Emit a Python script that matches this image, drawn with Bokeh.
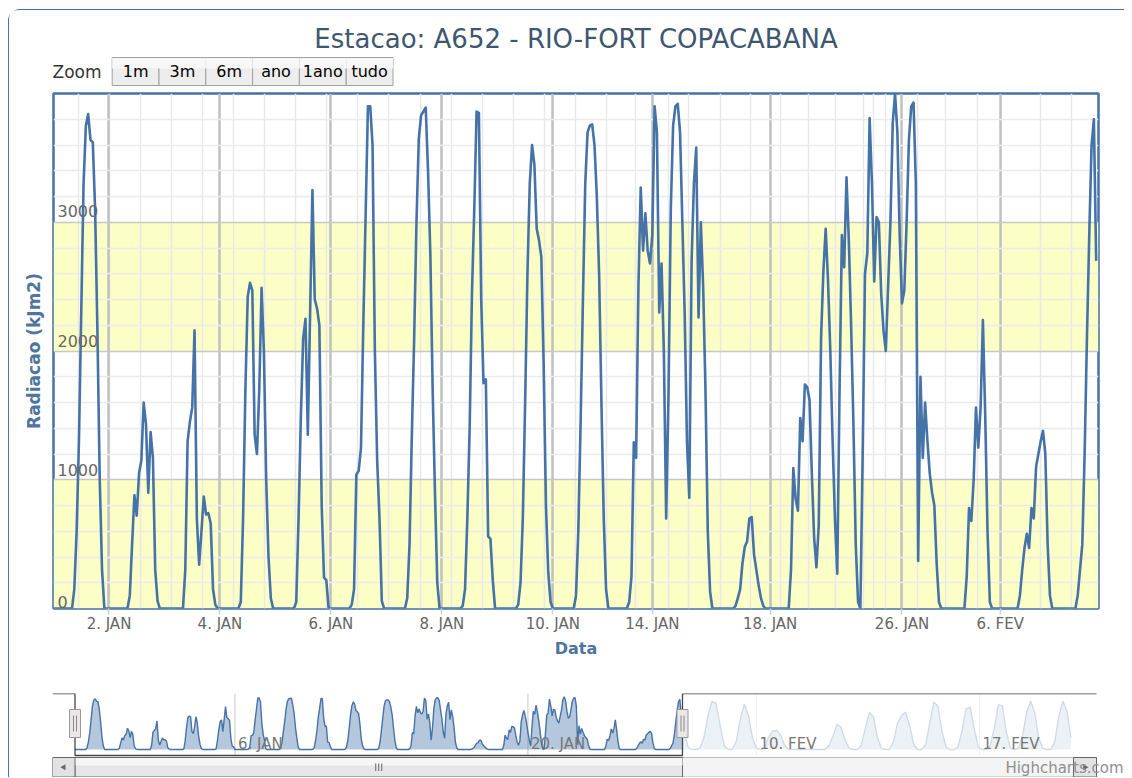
import numpy as np
from bokeh.plotting import figure
from bokeh.models import Range1d, FixedTicker, BoxAnnotation, Title
from bokeh.layouts import column
from bokeh.embed import file_html
from bokeh.resources import INLINE
from bokeh.core.properties import value

# ---------------- data (hourly radiation, kJ/m2) ----------------
dia_01 = [0,0,0,0,0,0,0,0,0,150,600,1300,2300,3300,3750,3840,3640,3620,3100,2150,1000,300,0,0]
dia_02 = [0,0,0,0,0,0,0,0,0,100,500,880,720,1050,1150,1600,1430,900,1370,1170,300,60,0,0]
dia_03 = [0,0,0,0,0,0,0,0,0,300,1300,1450,1560,2160,700,340,600,870,730,740,660,150,30,0]
dia_04 = [0,0,0,0,0,0,0,0,0,50,700,1700,2420,2530,2470,1350,1200,1700,2490,2000,1000,400,80,0]
dia_05 = [0,0,0,0,0,0,0,0,0,50,700,1500,2100,2250,1350,2300,3250,2400,2330,2200,800,240,220,0]
dia_06 = [0,0,0,0,0,0,0,0,0,30,150,1040,1070,1250,2200,3050,3900,3900,3600,2000,1150,700,60,0]
dia_07 = [0,0,0,0,0,0,0,0,0,80,500,1350,2100,3000,3650,3830,3860,3890,3400,2750,1700,900,200,0]
dia_08 = [0,0,0,0,0,0,0,0,0,20,150,700,1400,2450,3100,3860,3850,2400,1750,1780,560,540,220,0]
dia_09 = [0,0,0,0,0,0,0,0,0,30,200,700,1600,2600,3300,3600,3450,2950,2860,2730,1900,800,280,50]
dia_10 = [0,0,0,0,0,0,0,0,0,0,100,600,1450,2400,3300,3700,3750,3760,3600,3200,2600,1600,700,150]
trecho_a = [0,0,0,0,0,0,0,0,0,50,250,1290,1170,2500,3270,2780,3070,2780,2680,2900,3900,3700,
            2300,2680,2000,700,1650,3100,3750,3900,3920,3700,3000,2300,1300,860,2700,3300,3580,
            2260,3000,2500,1700,600,130,0]
trecho_b = [0,0,0,0,0,0,0,0,0,20,80,150,350,480,520,700,710,420,300,180,80,20,0]
trecho_c = [0,0,0,0,0,0,0,0,0,0,300,1090,850,760,1480,1300,1740,1720,1620,1050,550,320,650,
            2100,2620,2950,2550,2000,1300,700,270,1700,2900,2650,3350,2860,2200,1430,500,50,0]
trecho_d = [1200,2600,2760,3810,3300,2540,3040,3000,2450,2160,2000,2500,3000,3770,4000,3700,
            2900,2370,2470,3000,3640,3900,3930,3300,370,1800,1170,1600,1300,1050,900,800,350,50,0]
trecho_e = [0,0,0,0,0,0,0,0,0,0,250,780,680,1000,1560,1250,1560,2240,1500,600,50,0]
trecho_f = [0,0,0,0,0,0,0,0,0,0,0,100,300,470,580,470,780,700,1100,1200,1300,1380,1200,500,100,0]
trecho_g = [0,0,0,0,0,0,0,0,0,0,100,300,500,1200,2100,2900,3600,3800,2700]

radiacao = (dia_01 + dia_02 + dia_03 + dia_04 + dia_05 + dia_06 + dia_07 + dia_08 + dia_09 +
            dia_10 + trecho_a + trecho_b + trecho_c + trecho_d + trecho_e + trecho_f + trecho_g)

# later data only visible in the navigator (3-hourly samples)
nav_tail = [1500,200,0,0,100,900,2600,3650,3500,1800,300,0,0,600,2300,3450,2600,900,100,0,
            100,900,1400,1440,1100,300,0,0,0,0,0,0,0,0,0,0,300,1000,1900,1700,700,100,0,0,
            300,1600,2800,2500,900,100,0,0,600,2000,2570,2830,1800,400,0,0,400,2000,3600,3300,
            1400,200,0,0,200,1400,3100,3200,1600,200,0,0,300,1600,3400,3300,1300,100,0,100,
            1000,2800,3650,2800,900,100,0,0,600,2500,3650,2900,900]

tick_labels = ["2. JAN", "4. JAN", "6. JAN", "8. JAN", "10. JAN", "14. JAN", "18. JAN", "26. JAN", "6. FEV"]
tick_index = [24, 72, 120, 168, 216, 259, 310, 367, 409.5]
y_ticks = [0, 1000, 2000, 3000]
nav_labels = ["6. JAN", "20. JAN", "10. FEV", "17. FEV"]
nav_index = [119, 337, 507, 673]
buttons = ["1m", "3m", "6m", "ano", "1ano", "tudo"]

FONT = "DejaVu Sans"
BLUE = "#4572A7"
W = 1115
n = len(radiacao)
x = np.arange(n)


def no_align(fig):
    if "frame_align" in fig.properties():
        fig.frame_align = False


# ---------------- header: title + range selector (page-pixel coordinates) ----------------
HX0, HY0, HH = 9, 10, 80
ph = figure(width=W, height=HH, x_range=Range1d(HX0, HX0 + W), y_range=Range1d(HY0 + HH, HY0),
            output_backend="svg", toolbar_location=None, tools="", x_axis_location=None,
            y_axis_location=None, min_border=0, title=None)
no_align(ph)
ph.grid.visible = False
ph.outline_line_color = None
ph.background_fill_color = "white"
ph.border_fill_color = "white"
ph.text(x=[575.5], y=[38], text=["Estacao: A652 - RIO-FORT COPACABANA"], text_align="center",
        text_baseline="middle", text_font=value(FONT), text_font_size="26px",
        text_color="#3E576F")
ph.text(x=[52], y=[71], text=["Zoom"], text_align="left", text_baseline="middle",
        text_font=value(FONT), text_font_size="17px", text_color="#333333")
b_left = [111.7 + 46.8 * i for i in range(len(buttons))]
b_right = [b + 46.8 for b in b_left]
ph.quad(left=b_left, right=b_right, top=[57] * len(buttons), bottom=[85] * len(buttons),
        fill_color="#EDEDED", line_color="#A0A0A0", line_width=1)
ph.quad(left=b_left, right=b_right, top=[57.5] * len(buttons), bottom=[68] * len(buttons),
        fill_color="#F7F7F7", line_color=None)
ph.text(x=[(a + b) / 2 for a, b in zip(b_left, b_right)], y=[71] * len(buttons), text=buttons,
        text_align="center", text_baseline="middle", text_font=value(FONT),
        text_font_size="16px", text_color="#000000")

# ---------------- main chart ----------------
p = figure(width=W, height=590, x_range=Range1d(0, n), y_range=Range1d(0, 4000), title=None,
           output_backend="svg", toolbar_location=None, tools="", y_axis_location=None,
           min_border_left=44, min_border_right=26, min_border_top=3, min_border_bottom=72)
no_align(p)
p.background_fill_color = "white"
p.border_fill_color = "white"
p.outline_line_color = BLUE
p.outline_line_width = 2.5

for lo, hi in [(0, 1000), (2000, 3000)]:
    p.add_layout(BoxAnnotation(bottom=lo, top=hi, fill_color="#FCFFC5", fill_alpha=1.0,
                               line_color=None, level="image"))

minor_x = list(np.arange(10.8, 241, 13.43)) + [251.7, 265.9, 274.6, 288.4, 301.4, 314.4, 326.5,
                                               338.2, 350.3, 354.6, 359.8, 373.6, 385.7, 399.6,
                                               426.8, 440.2]
p.xaxis.ticker = FixedTicker(ticks=tick_index, minor_ticks=minor_x)
p.xaxis.major_label_overrides = {t: l for t, l in zip(tick_index, tick_labels)}
p.xaxis.axis_line_color = None
p.xaxis.major_tick_line_color = "#C0D0E0"
p.xaxis.major_tick_line_width = 1.5
p.xaxis.major_tick_out = 6
p.xaxis.major_tick_in = 0
p.xaxis.minor_tick_line_color = None
p.xaxis.major_label_text_font = FONT
p.xaxis.major_label_text_font_size = "15px"
p.xaxis.major_label_text_color = "#666666"
p.xaxis.major_label_standoff = 0
p.xaxis.axis_label = "Data"
p.xaxis.axis_label_text_font = FONT
p.xaxis.axis_label_text_font_size = "16px"
p.xaxis.axis_label_text_font_style = "bold"
p.xaxis.axis_label_text_color = "#4D759E"
p.xaxis.axis_label_standoff = 3

p.xgrid.grid_line_color = "#C0C0C0"
p.xgrid.grid_line_width = 2.5
p.xgrid.minor_grid_line_color = "#E8E8E8"
p.xgrid.minor_grid_line_width = 1.5
p.ygrid.ticker = FixedTicker(ticks=[0, 1000, 2000, 3000, 4000],
                             minor_ticks=[v for v in range(0, 4001, 200) if v % 1000])
p.ygrid.grid_line_color = "#C8C8C8"
p.ygrid.grid_line_width = 1.5
p.ygrid.minor_grid_line_color = "#EBEBEB"
p.ygrid.minor_grid_line_width = 1.5

p.line(x, radiacao, line_color=BLUE, line_width=2.6, line_join="round")

p.text(x=[0] * len(y_ticks), y=y_ticks, text=[str(v) for v in y_ticks], x_offset=4,
       y_offset=[-7, -10, -10.5, -11], text_align="left", text_baseline="middle",
       text_font=value(FONT), text_font_size="16px", text_color="#666666")

p.add_layout(Title(text="Radiacao (kJm2)", align="center", text_font=FONT, text_font_size="17px",
                   text_font_style="bold", text_color="#4D759E", standoff=20), "left")

# ---------------- navigator ----------------
NAV_H = 97
PX_LEFT, PX_RIGHT = 52, 1124          # navigator frame in page pixels
PX_TOP, PX_BOTTOM = 693, 680 + NAV_H
PX_X0, PX_SEL = 74.5, 682             # data start / selection end
PX_BASE = 749
K = (PX_SEL - PX_X0) / n
VPP = 75.7                            # value per pixel
nav_xr = Range1d((PX_LEFT - PX_X0) / K, (PX_RIGHT - PX_X0) / K)
nav_yr = Range1d(-(PX_BOTTOM - PX_BASE) * VPP, (PX_BASE - PX_TOP) * VPP)

pn = figure(width=W, height=NAV_H, x_range=nav_xr, y_range=nav_yr, output_backend="svg",
            toolbar_location=None, tools="", x_axis_location=None, y_axis_location=None,
            title=None, min_border_left=43, min_border_right=0, min_border_top=13,
            min_border_bottom=0)
no_align(pn)
pn.grid.visible = False
pn.outline_line_color = None
pn.background_fill_color = "white"
pn.border_fill_color = "white"
pn.extra_x_ranges = {"px": Range1d(PX_LEFT, PX_RIGHT)}
pn.extra_y_ranges = {"px": Range1d(PX_BOTTOM, PX_TOP)}

nav_x = list(x) + [n + 1 + 3 * k for k in range(len(nav_tail))]
nav_y = list(radiacao) + nav_tail

pn.segment(x0=nav_index, x1=nav_index, y0=[PX_TOP] * 4, y1=[755] * 4, y_range_name="px",
           line_color="#C8C8C8", line_width=1)
pn.varea(x=nav_x, y1=0, y2=nav_y, fill_color=BLUE, fill_alpha=0.4)
pn.line(nav_x, nav_y, line_color=BLUE, line_width=1.4)
pn.quad(left=[n], right=[nav_xr.end], bottom=[755], top=[PX_TOP], y_range_name="px",
        fill_color="white", fill_alpha=0.75, line_color=None)
pn.text(x=nav_index, y=[743.5] * 4, text=nav_labels, y_range_name="px", x_offset=3,
        text_align="left", text_baseline="middle", text_font=value(FONT),
        text_font_size="15px", text_color="#777777")

# outline
pn.line(x=[PX_LEFT, PX_X0, PX_X0, PX_SEL, PX_SEL, 1096], y=[PX_TOP, PX_TOP, 755, 755, PX_TOP, PX_TOP],
        x_range_name="px", y_range_name="px", line_color="#444444", line_width=1.3)

# scrollbar
SB_T, SB_B = 757, 776.5
pn.quad(left=[PX_LEFT], right=[1096], top=[SB_T], bottom=[SB_B], x_range_name="px",
        y_range_name="px", fill_color="#F4F4F4", line_color="#BBBBBB", line_width=1)
pn.quad(left=[PX_X0], right=[PX_SEL], top=[SB_T], bottom=[SB_B], x_range_name="px",
        y_range_name="px", fill_color="#E6E6E6", line_color="#666666", line_width=1)
pn.quad(left=[PX_X0], right=[PX_SEL], top=[SB_T + 0.5], bottom=[SB_T + 8], x_range_name="px",
        y_range_name="px", fill_color="#F6F6F6", line_color=None)
pn.quad(left=[PX_LEFT, 1073], right=[PX_X0, 1096], top=[SB_T] * 2, bottom=[SB_B] * 2,
        x_range_name="px", y_range_name="px", fill_color="#E2E2E2", line_color="#666666",
        line_width=1)
pn.scatter(x=[(PX_LEFT + PX_X0) / 2, 1084.5], y=[(SB_T + SB_B) / 2] * 2, marker="triangle",
           angle=[np.pi / 2, -np.pi / 2], size=6, x_range_name="px", y_range_name="px",
           fill_color="#666666", line_color=None)
gc = (PX_X0 + PX_SEL) / 2
pn.segment(x0=[gc - 3, gc, gc + 3], x1=[gc - 3, gc, gc + 3], y0=[SB_T + 6] * 3,
           y1=[SB_B - 6] * 3, x_range_name="px", y_range_name="px", line_color="#666666",
           line_width=1)

# handles
for hx in [PX_X0, PX_SEL]:
    pn.quad(left=[hx - 5.5], right=[hx + 5.5], top=[709], bottom=[737], x_range_name="px",
            y_range_name="px", fill_color="#EBE7E8", line_color="#999999", line_width=1)
    pn.segment(x0=[hx - 1.5, hx + 1.5], x1=[hx - 1.5, hx + 1.5], y0=[715] * 2, y1=[731] * 2,
               x_range_name="px", y_range_name="px", line_color="#888888", line_width=1)

pn.text(x=[1123], y=[767], text=["Highcharts.com"], x_range_name="px",
        y_range_name="px", text_align="right", text_baseline="middle",
        text_font=value(FONT), text_font_size="15px", text_color="#909090")

layout = column(ph, p, pn, styles={"margin-left": "8px", "margin-top": "9px",
                                   "border-top": "1px solid #4572A7",
                                   "border-left": "1px solid #4572A7",
                                   "border-top-left-radius": "12px"})

open("out.html", "w").write(file_html(layout, INLINE))
